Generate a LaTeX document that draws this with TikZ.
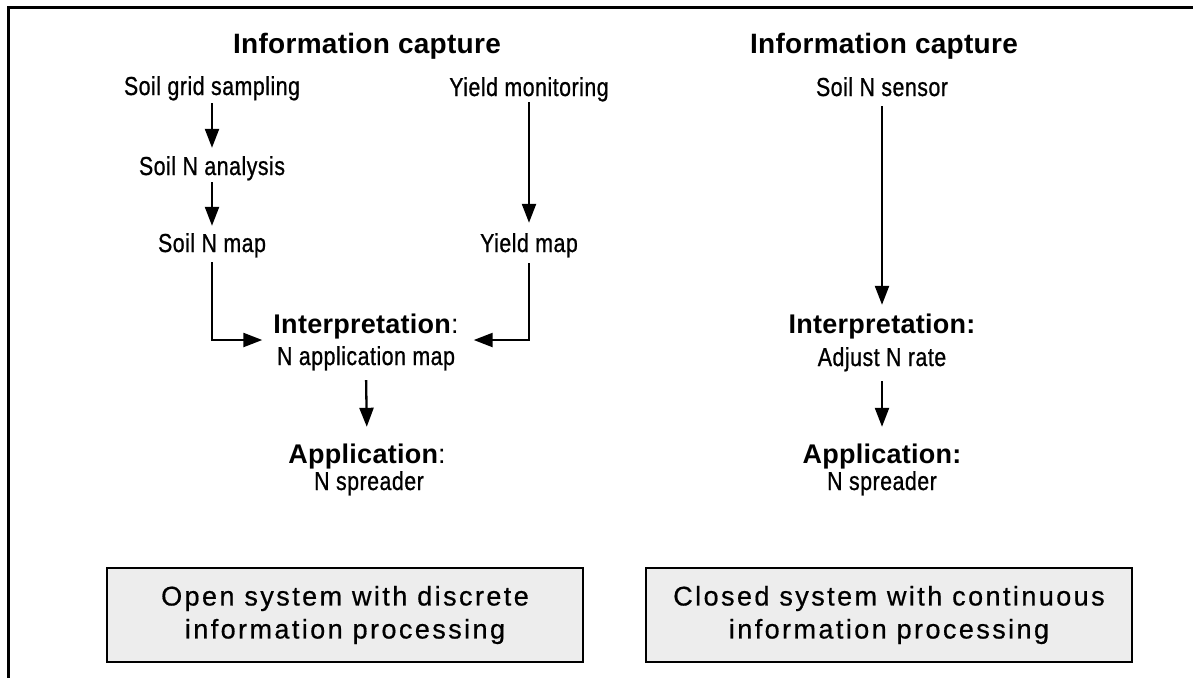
\documentclass[tikz,border=0pt]{standalone}
\usepackage{fontspec}
\setmainfont{Liberation Sans}
\newfontfamily\nrwfont{Liberation Sans}[FakeStretch=0.82,LetterSpace=2,FakeBold=0.8]
\newfontfamily\bldfont{Liberation Sans}[LetterSpace=1]
\newfontfamily\boxfont{Liberation Sans}[LetterSpace=9,FakeBold=0.6]
\usetikzlibrary{arrows.meta}
\begin{document}
\begin{tikzpicture}[x=1pt,y=-1pt,
  lbl/.style={anchor=base,inner sep=0pt,font=\nrwfont\fontsize{26}{30}\selectfont,text height=19pt,text depth=6pt},
  hdr/.style={anchor=base,inner sep=0pt,font=\bldfont\bfseries\fontsize{27}{30}\selectfont,text height=20pt,text depth=6pt},
  ttl/.style={anchor=base,inner sep=0pt,font=\bldfont\bfseries\fontsize{28}{30}\selectfont,text height=20pt,text depth=6pt},
  arr/.style={-{Triangle[length=19pt,width=14pt]},line width=2.3pt},
  sysbox/.style={draw,line width=2.3pt,fill=black!7,minimum height=94pt,inner sep=0pt,align=center,font=\boxfont\fontsize{27}{33}\selectfont}]
\useasboundingbox (0,0) rectangle (1193,678);
\fill[white] (0,0) rectangle (1193,678);
% frame
\draw[line width=3pt] (1193,7) -- (8.5,7) -- (8.5,678);
% left column
\node[ttl] (titL) at (367,53) {Information capture};
\node[lbl] (sgs) at (212,95) {Soil grid sampling};
\node[lbl] (sna) at (212,175) {Soil N analysis};
\node[lbl] (snm) at (212,252) {Soil N map};
\node[lbl] (ym) at (529,96) {Yield monitoring};
\node[lbl] (ymap) at (529,252) {Yield map};
\node[hdr] (interpL) at (366,333) {Interpretation{\mdseries:}};
\node[lbl] (nappL) at (366,365) {N application map};
\node[hdr] (appL) at (367,463) {Application{\mdseries:}};
\node[lbl] (sprL) at (369,490) {N spreader};
% right column
\node[ttl] (titR) at (884,53) {Information capture};
\node[lbl] (sns) at (882,96) {Soil N sensor};
\node[hdr] (interpR) at (882,333) {Interpretation:};
\node[lbl] (adj) at (882,366) {Adjust N rate};
\node[hdr] (appR) at (882,463) {Application:};
\node[lbl] (sprR) at (882,490) {N spreader};
% arrows
\draw[arr,shorten <=2pt,shorten >=8pt] (sgs.south) -- (sna.north);
\draw[arr,shorten <=1pt,shorten >=7pt] (sna.south) -- (snm.north);
\draw[arr,shorten <=0pt,shorten >=10pt] (ym.south) -- (ymap.north);
\draw[arr,shorten <=4pt] (snm.south) |- ([xshift=-11pt,yshift=-7pt]interpL.base west);
\draw[arr,shorten <=5pt] (ymap.south) |- ([xshift=15pt,yshift=-7pt]interpL.base east);
\draw[arr,shorten <=9pt,shorten >=16pt] (nappL.south) -- (appL.north);
\draw[arr,shorten <=4pt,shorten >=8pt] (sns.south) -- (interpR.north);
\draw[arr,shorten <=9pt,shorten >=16pt] (adj.south) -- (appR.north);
% boxes
\node[sysbox,minimum width=476pt] (boxL) at (345,615) {Open system with discrete\\information processing};
\node[sysbox,minimum width=486pt] (boxR) at (889,615) {Closed system with continuous\\information processing};
\end{tikzpicture}
\end{document}
